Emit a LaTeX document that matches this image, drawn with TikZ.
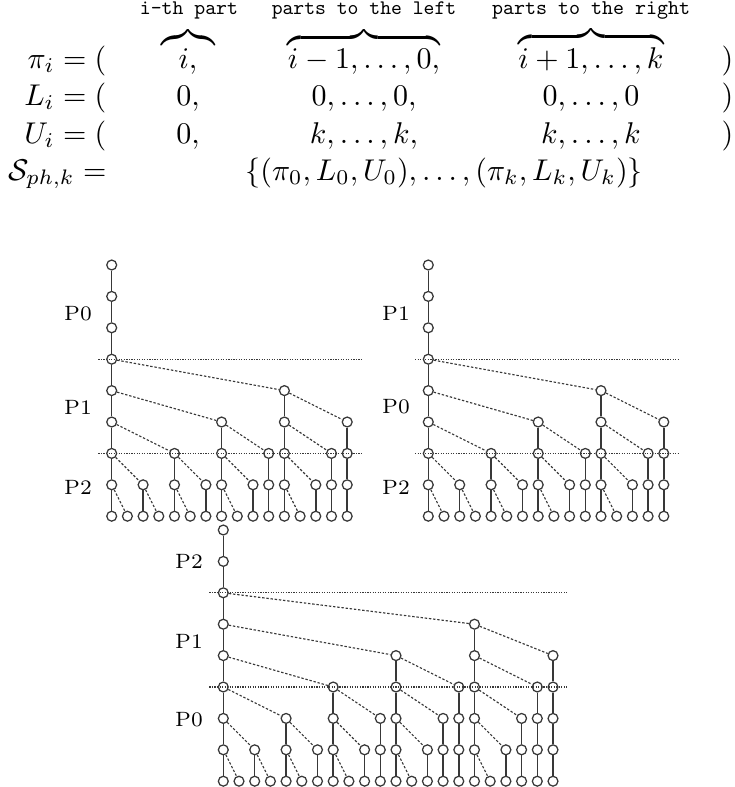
\documentclass[tikz,border=0pt]{standalone}
\usepackage{graphicx}
\usepackage{amsmath}
\definecolor{ln}{gray}{0.22}
\tikzset{
  vtx/.style={circle, draw=ln, line width=0.42pt, inner sep=0pt, minimum size=3.3pt},
  edge/.style={draw=ln, line width=0.5pt},
  dedge/.style={draw=ln, line width=0.38pt, dash pattern=on 0.8pt off 0.6pt},
  sep/.style={draw=ln, line width=0.38pt, dash pattern=on 0.4pt off 0.45pt},
  fm/.style={inner sep=0pt, anchor=base},
  tlab/.style={inner sep=0pt, anchor=base},
  plab/.style={inner sep=0pt, font=\fontsize{6.9}{8}\selectfont}
}
\newcommand\ttw[2]{\resizebox{#1}{!}{\ttfamily #2}}
\newcommand\mktree[6]{%
  \foreach \r/\cols in {#4} {\foreach \c in \cols {\node[vtx] (#1\r-\c) at ({#2+15.7*\c},{#3+31.4*\r}) {};}}
  \foreach \c in {0,...,#5} {\node[vtx] (#18-\c) at ({#2+15.7*\c},{#3+31.4*8}) {};}
  \foreach \r/\cols in {#4} {\pgfmathtruncatemacro\rn{\r+1}\foreach \c in \cols {\draw[edge] (#1\r-\c) -- (#1\rn-\c);}}
  \foreach \r/\a/\b in {#6} {\pgfmathtruncatemacro\rn{\r+1}\draw[dedge] (#1\r-\a) -- (#1\rn-\b);}
}
\begin{document}
\begin{tikzpicture}[x=0.33333pt, y=-0.33333pt]
\useasboundingbox (0,0) rectangle (734,787);
% labels over the braces
\node[tlab] (ta) at (189,14) {\ttw{32.7pt}{i-th part}};
\node[tlab] (tb) at (364,14) {\ttw{61.5pt}{parts to the left}};
\node[tlab] (tc) at (591,14) {\ttw{66pt}{parts to the right}};
% formula
\node[fm, anchor=base east] (l1) at (107,68) {$\pi_i = ($};
\node[fm] (a1) at (188,68) {$\overbrace{i,}$};
\node[fm] (b1) at (364,68) {$\overbrace{i-1,\ldots,0,}$};
\node[fm] (c1) at (591,68) {$\overbrace{i+1,\ldots,k}$};
\node[fm, anchor=base east] (r1) at (734,68) {$)$};
\node[fm, anchor=base east] (l2) at (107,105) {$L_i = ($};
\node[fm] (a2) at (188,105) {$0,$};
\node[fm] (b2) at (364,105) {$0,\ldots,0,$};
\node[fm] (c2) at (591,105) {$0,\ldots,0$};
\node[fm, anchor=base east] (r2) at (734,105) {$)$};
\node[fm, anchor=base east] (l3) at (107,143) {$U_i = ($};
\node[fm] (a3) at (188,143) {$0,$};
\node[fm] (b3) at (364,143) {$k,\ldots,k,$};
\node[fm] (c3) at (591,143) {$k,\ldots,k$};
\node[fm, anchor=base east] (r3) at (734,143) {$)$};
\node[fm, anchor=base east] (l4) at (107,180) {$\mathcal{S}_{ph,k} =$};
\node[fm] (s4) at (444,180) {$\{(\pi_0,L_0,U_0),\ldots,(\pi_k,L_k,U_k)\}$};
% trees
\mktree{a}{111.7}{265}{0/{0},1/{0},2/{0},3/{0},4/{0,11},5/{0,7,11,15},6/{0,4,7,10,11,14,15},7/{0,2,4,6,7,9,10,11,13,14,15}}{15}{3/0/11,4/0/7,4/11/15,5/0/4,5/7/10,5/11/14,6/0/2,6/4/6,6/7/9,6/11/13,7/0/1,7/2/3,7/4/5,7/7/8,7/11/12}
\mktree{b}{428.3}{265}{0/{0},1/{0},2/{0},3/{0},4/{0,11},5/{0,7,11,15},6/{0,4,7,10,11,14,15},7/{0,2,4,6,7,9,10,11,13,14,15}}{15}{3/0/11,4/0/7,4/11/15,5/0/4,5/7/10,5/11/14,6/0/2,6/4/6,6/7/9,6/11/13,7/0/1,7/2/3,7/4/5,7/7/8,7/11/12}
\mktree{c}{223.3}{530}{0/{0},1/{0},2/{0},3/{0,16},4/{0,11,16,21},5/{0,7,11,15,16,20,21},6/{0,4,7,10,11,14,15,16,19,20,21},7/{0,2,4,6,7,9,10,11,13,14,15,16,18,19,20,21}}{21}{2/0/16,3/0/11,3/16/21,4/0/7,4/11/15,4/16/20,5/0/4,5/7/10,5/11/14,5/16/19,6/0/2,6/4/6,6/7/9,6/11/13,6/16/18,7/0/1,7/2/3,7/4/5,7/7/8,7/11/12,7/16/17}
% separators
\coordinate (as1l) at (98.3,359.2); \coordinate (as1r) at (361.7,359.2);
\coordinate (as2l) at (98.3,453.4); \coordinate (as2r) at (361.7,453.4);
\coordinate (bs1l) at (415,359.2); \coordinate (bs1r) at (678.3,359.2);
\coordinate (bs2l) at (415,453.4); \coordinate (bs2r) at (678.3,453.4);
\coordinate (cs1l) at (209.3,592.8); \coordinate (cs1r) at (567.3,592.8);
\coordinate (cs2l) at (209.3,687); \coordinate (cs2r) at (567.3,687);
\draw[sep] (as1l) -- (as1r); \draw[sep] (as2l) -- (as2r);
\draw[sep] (bs1l) -- (bs1r); \draw[sep] (bs2l) -- (bs2r);
\draw[sep] (cs1l) -- (cs1r); \draw[sep] (cs2l) -- (cs2r);
% labels
\node[plab] (ap0) at (78,313.5) {P0};
\node[plab] (ap1) at (78,407) {P1};
\node[plab] (ap2) at (78,487) {P2};
\node[plab] (bp1) at (396,313.5) {P1};
\node[plab] (bp0) at (396,407) {P0};
\node[plab] (bp2) at (396,487) {P2};
\node[plab] (cp2) at (189,561.5) {P2};
\node[plab] (cp1) at (189,641) {P1};
\node[plab] (cp0) at (189,719.5) {P0};
\end{tikzpicture}
\end{document}
